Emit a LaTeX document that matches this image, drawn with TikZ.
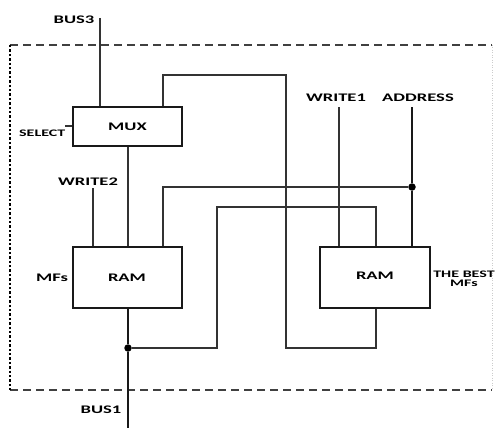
\documentclass[tikz,border=0pt]{standalone}
\usepackage{fontspec}
\setmainfont{Carlito}
\usetikzlibrary{calc}
\newcommand{\widetxt}[1]{\scalebox{1.6}[1]{\bfseries #1}}
\tikzset{
  wire/.style={draw=black!80, line width=1.7pt},
  thickwire/.style={draw=black!90, line width=2.4pt},
  blockbox/.style={draw=black!90, line width=2pt, fill=white, inner sep=0pt},
  lbl/.style={inner sep=0pt, font=\fontsize{11.6}{12}\selectfont},
  smalllbl/.style={inner sep=0pt, font=\fontsize{10}{11}\selectfont},
  junction/.style={circle, fill=black, inner sep=0pt, minimum size=7.5pt},
}
\begin{document}
\begin{tikzpicture}[x=1pt, y=-1pt]
\useasboundingbox (0,0) rectangle (498,428);
% enclosing border
\draw[black!75, line width=1.8pt, dash pattern=on 8pt off 5pt] (10,45) -- (492,45);
\draw[black!75, line width=1.8pt, dash pattern=on 8pt off 5pt] (10,390) -- (492,390);
\draw[black, line width=2.8pt, dash pattern=on 2.4pt off 2pt] (10,45) -- (10,390);
\draw[black!20, line width=1pt, dash pattern=on 1pt off 1.5pt] (492,45) -- (492,390);

% blocks
\node[blockbox, minimum width=109pt, minimum height=39pt] (mux) at (127.5,126.5) {};
\node[blockbox, minimum width=109pt, minimum height=61pt] (ram1) at (127.5,277.5) {};
\node[blockbox, minimum width=110pt, minimum height=61pt] (ram2) at (375,277.5) {};
\node[lbl] (muxl) at (mux.center) {\widetxt{MUX}};
\node[lbl] (ram1l) at (127,278) {\widetxt{RAM}};
\node[lbl] (ram2l) at (375,276) {\widetxt{RAM}};

% free ends
\coordinate (bus3top) at (100,18);
\coordinate (selend) at (65,126);
\coordinate (w2top) at (93,188);
\coordinate (w1top) at (339,107);
\coordinate (adtop) at (412,107);
\coordinate (bus1end) at (128,428);
\node[junction] (jad) at (412,187) {};
\node[junction] (jbus) at (128,348) {};

% labels
\node[lbl] (bus3l) at (74,20) {\widetxt{BUS3}};
\node[smalllbl, anchor=east] (sell) at (65.5,133) {\widetxt{SELECT}};
\node[lbl] (w2l) at (88,182) {\widetxt{WRITE2}};
\node[lbl] (w1l) at (336,98) {\widetxt{WRITE1}};
\node[lbl] (adl) at (418,98) {\widetxt{ADDRESS}};
\node[lbl] (mfsl) at (52,278) {\widetxt{MFs}};
\node[smalllbl, align=center] (bestl) at (464,279) {\widetxt{THE BEST}\\[-1.5pt]\widetxt{MFs}};
\node[lbl] (bus1l) at (101,410) {\widetxt{BUS1}};

% wires
\draw[wire] (bus3top) -- (bus3top |- mux.north);
\draw[wire] (selend) -- (selend -| mux.west);
\draw[wire] (mux.south -| 128,0) -- (ram1.north -| 128,0);
\draw[wire] (163,0 |- mux.north) -- (163,75) -- (286,75) -- (286,348) -- (376,348) -- (376,0 |- ram2.south);
\draw[wire] (w2top) -- (w2top |- ram1.north);
\draw[wire] (163,0 |- ram1.north) -- (163,187) -- (jad);
\draw[wire] (w1top) -- (w1top |- ram2.north);
\draw[thickwire] (adtop) -- (jad) -- (adtop |- ram2.north);
\draw[wire] (376,0 |- ram2.north) -- (376,207) -- (217,207) -- (217,348) -- (jbus);
\draw[thickwire] (128,0 |- ram1.south) -- (jbus) -- (bus1end);
\end{tikzpicture}
\end{document}
